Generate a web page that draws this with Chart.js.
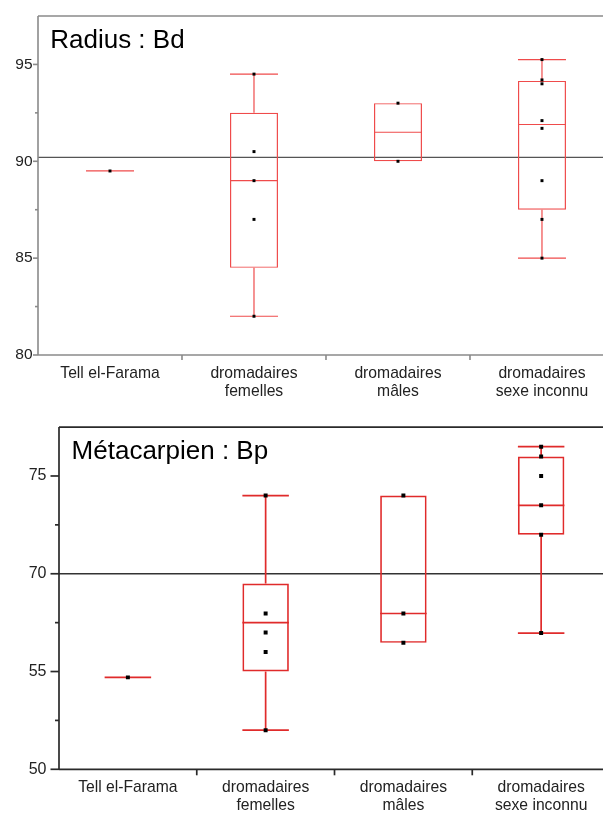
<!DOCTYPE html>
<html>
<head>
<meta charset="utf-8">
<script src="https://cdn.jsdelivr.net/npm/chart.js@4.4.1/dist/chart.umd.min.js"></script>
<style>
  html, body { margin: 0; padding: 0; background: #fff; overflow: hidden; }
  .panel { position: relative; width: 603px; }
  canvas { display: block; }
</style>
</head>
<body>
<div class="panel" style="height:405px"><canvas id="bd"></canvas></div>
<div class="panel" style="height:409px"><canvas id="bp"></canvas></div>
<script>
const CATEGORIES = [
  ['Tell el-Farama'],
  ['dromadaires', 'femelles'],
  ['dromadaires', 'mâles'],
  ['dromadaires', 'sexe inconnu']
];

// Radius : Bd
const BD_TICKS = [80, 85, 90, 95];
const BD_REF = 90.2;
const BD_MIN = [89.5, 82, 90, 85];
const BD_Q1 = [89.5, 84.5, 90, 87.5];
const BD_MEDIAN = [89.5, 89, 91.5, 91.9];
const BD_Q3 = [89.5, 92.5, 93, 94.15];
const BD_MAX = [89.5, 94.5, 93, 95.25];
const BD_POINTS = [
  [89.5],
  [82, 87, 89, 90.5, 94.5],
  [90, 93],
  [85, 87, 89, 91.7, 92.1, 94.0, 94.2, 95.25]
];

// Métacarpien : Bp (labelled ticks are evenly spaced on the drawn axis)
const BP_TICKS = [50, 55, 70, 75];
const BP_REF = 70;
const BP_MIN = [54.7, 52, 59.4, 60.9];
const BP_Q1 = [54.7, 55, 59.4, 72];
const BP_MEDIAN = [54.7, 62.5, 63.9, 73.5];
const BP_Q3 = [54.7, 68.5, 74, 76];
const BP_MAX = [54.7, 74, 74, 76.5];
const BP_POINTS = [
  [54.7],
  [52, 58, 61, 63.9, 74],
  [59.4, 63.9, 74],
  [60.9, 72, 73.5, 75, 76, 76.5]
];

const FONT = "Arial, 'Liberation Sans', Helvetica, sans-serif";

// value axis whose labelled stops sit at equal distances (minor tick half way)
class StopScale extends Chart.LinearScale {
  static id = 'stops';
  toU(v) {
    const s = this.options.stops;
    let i = 0;
    while (i < s.length - 2 && v > s[i + 1]) i++;
    return 2 * i + 2 * (v - s[i]) / (s[i + 1] - s[i]);
  }
  determineDataLimits() {
    this.min = this.toU(this.options.min);
    this.max = this.toU(this.options.max);
  }
  buildTicks() {
    const s = this.options.stops, ticks = [];
    for (let i = 0; i < s.length; i++) {
      ticks.push({ value: s[i] });
      if (i < s.length - 1) ticks.push({ value: (s[i] + s[i + 1]) / 2 });
    }
    return ticks;
  }
  getPixelForValue(v) {
    return super.getPixelForValue(this.toU(v));
  }
}
Chart.register(StopScale);

function makeChart(id, p) {
  const boxPlugin = {
    id: 'boxes',
    beforeDatasetsDraw(chart) {
      const { ctx, chartArea: a, scales: { x, y } } = chart;
      const seg = (x1, y1, x2, y2) => { ctx.beginPath(); ctx.moveTo(x1, y1); ctx.lineTo(x2, y2); ctx.stroke(); };
      const py = v => y.getPixelForValue(v);
      ctx.save();
      ctx.strokeStyle = p.refColor;
      ctx.lineWidth = p.refWidth;
      seg(a.left, py(p.ref), chart.width, py(p.ref));
      ctx.strokeStyle = p.red;
      ctx.lineWidth = p.lw;
      p.median.forEach((m, i) => {
        const cx = x.getPixelForValue(i), h = p.boxWidth / 2;
        if (p.max[i] > p.q3[i]) {
          seg(cx, py(p.q3[i]), cx, py(p.max[i]));
          seg(cx - h, py(p.max[i]), cx + h, py(p.max[i]));
        }
        if (p.min[i] < p.q1[i]) {
          seg(cx, py(p.q1[i]), cx, py(p.min[i]));
          seg(cx - h, py(p.min[i]), cx + h, py(p.min[i]));
        }
        seg(cx - h, py(m), cx + h, py(m));
      });
      ctx.restore();
    },
    afterDraw(chart) {
      const { ctx, chartArea: a, scales: { x, y } } = chart;
      const seg = (x1, y1, x2, y2) => { ctx.beginPath(); ctx.moveTo(x1, y1); ctx.lineTo(x2, y2); ctx.stroke(); };
      ctx.save();
      ctx.strokeStyle = p.axisColor;
      ctx.lineWidth = p.axisWidth;
      seg(a.left, a.top, chart.width, a.top);
      seg(a.left, a.top, a.left, a.bottom);
      seg(a.left, a.bottom, chart.width, a.bottom);
      y.ticks.forEach(t => {
        const ty = y.getPixelForValue(t.value);
        const len = p.ticks.includes(t.value) ? p.majorLen : p.minorLen;
        seg(a.left - len, ty, a.left, ty);
      });
      for (let i = 0; i < CATEGORIES.length - 1; i++) {
        const tx = x.getPixelForValue(i + 0.5);
        seg(tx, a.bottom, tx, a.bottom + p.xTickLen);
      }
      ctx.fillStyle = '#000';
      ctx.font = p.titleSize + 'px ' + FONT;
      ctx.textAlign = 'left';
      ctx.textBaseline = 'alphabetic';
      ctx.fillText(p.title, a.left + p.titleDx, a.top + p.titleDy);
      ctx.restore();
    }
  };

  return new Chart(document.getElementById(id), {
    type: 'bar',
    data: {
      datasets: [
        {
          type: 'scatter',
          data: p.points.flatMap((vals, i) => vals.map(v => ({ x: i, y: v }))),
          pointStyle: 'rect',
          pointRadius: p.pointR,
          backgroundColor: '#000',
          borderWidth: 0,
          order: 0
        },
        {
          type: 'bar',
          data: p.q1.map((q, i) => ({ x: i, y: [q, p.q3[i]] })),
          backgroundColor: 'rgba(0,0,0,0)',
          borderColor: p.red,
          borderWidth: p.lw,
          borderSkipped: false,
          barThickness: p.boxWidth,
          inflateAmount: 0,
          order: 1
        }
      ]
    },
    options: {
      animation: false,
      responsive: true,
      maintainAspectRatio: false,
      layout: { padding: { top: p.top, left: 0, right: 0, bottom: 0 } },
      plugins: { legend: { display: false }, tooltip: { enabled: false } },
      scales: {
        x: {
          type: 'linear', min: -0.5, max: p.xMax, offset: false, bounds: 'data',
          grid: { display: false, drawTicks: false },
          border: { display: false },
          afterBuildTicks: s => { s.ticks = CATEGORIES.map((c, i) => ({ value: i })); },
          afterFit: s => { s.height = p.xHeight; s.paddingLeft = 0; s.paddingRight = 0; },
          ticks: {
            autoSkip: false, maxRotation: 0, padding: p.xPad, color: '#222',
            font: { family: FONT, size: p.labelSize, lineHeight: 1.17 },
            callback: v => CATEGORIES[v]
          }
        },
        y: {
          type: 'stops', stops: p.ticks, min: p.ticks[0], max: p.yMax,
          grid: { display: false, drawTicks: false },
          border: { display: false },
          afterFit: s => { s.width = p.left; s.paddingLeft = 0; s.paddingRight = 0; },
          ticks: {
            autoSkip: false, padding: p.yPad, color: '#222',
            font: { family: FONT, size: p.tickSize },
            callback: v => p.ticks.includes(v) ? String(v) : ''
          }
        }
      }
    },
    plugins: [boxPlugin]
  });
}

makeChart('bd', {
  title: 'Radius : Bd', ticks: BD_TICKS, ref: BD_REF,
  min: BD_MIN, q1: BD_Q1, median: BD_MEDIAN, q3: BD_Q3, max: BD_MAX, points: BD_POINTS,
  yMax: 97.5, xMax: 3.396, left: 38, top: 16, xHeight: 50, boxWidth: 48,
  red: '#ef4b4b', lw: 1.2, pointR: 2.1, axisColor: '#8a8a8a', axisWidth: 1.6,
  refColor: '#555', refWidth: 1.3, majorLen: 5, minorLen: 3, xTickLen: 5,
  yPad: 5.5, xPad: 9, tickSize: 15.5, labelSize: 15.7, titleSize: 26, titleDx: 12.2, titleDy: 31.7
});

makeChart('bp', {
  title: 'Métacarpien : Bp', ticks: BP_TICKS, ref: BP_REF,
  min: BP_MIN, q1: BP_Q1, median: BP_MEDIAN, q3: BP_Q3, max: BP_MAX, points: BP_POINTS,
  yMax: 77.5, xMax: 3.42, left: 59, top: 20.7, xHeight: 44.7, boxWidth: 46.5,
  red: '#e02b2b', lw: 1.7, pointR: 2.8, axisColor: '#2a2a2a', axisWidth: 1.7,
  refColor: '#333', refWidth: 1.6, majorLen: 8.5, minorLen: 4, xTickLen: 6,
  yPad: 12.5, xPad: 9, tickSize: 16, labelSize: 15.7, titleSize: 26, titleDx: 12.6, titleDy: 32
});
</script>
</body>
</html>
